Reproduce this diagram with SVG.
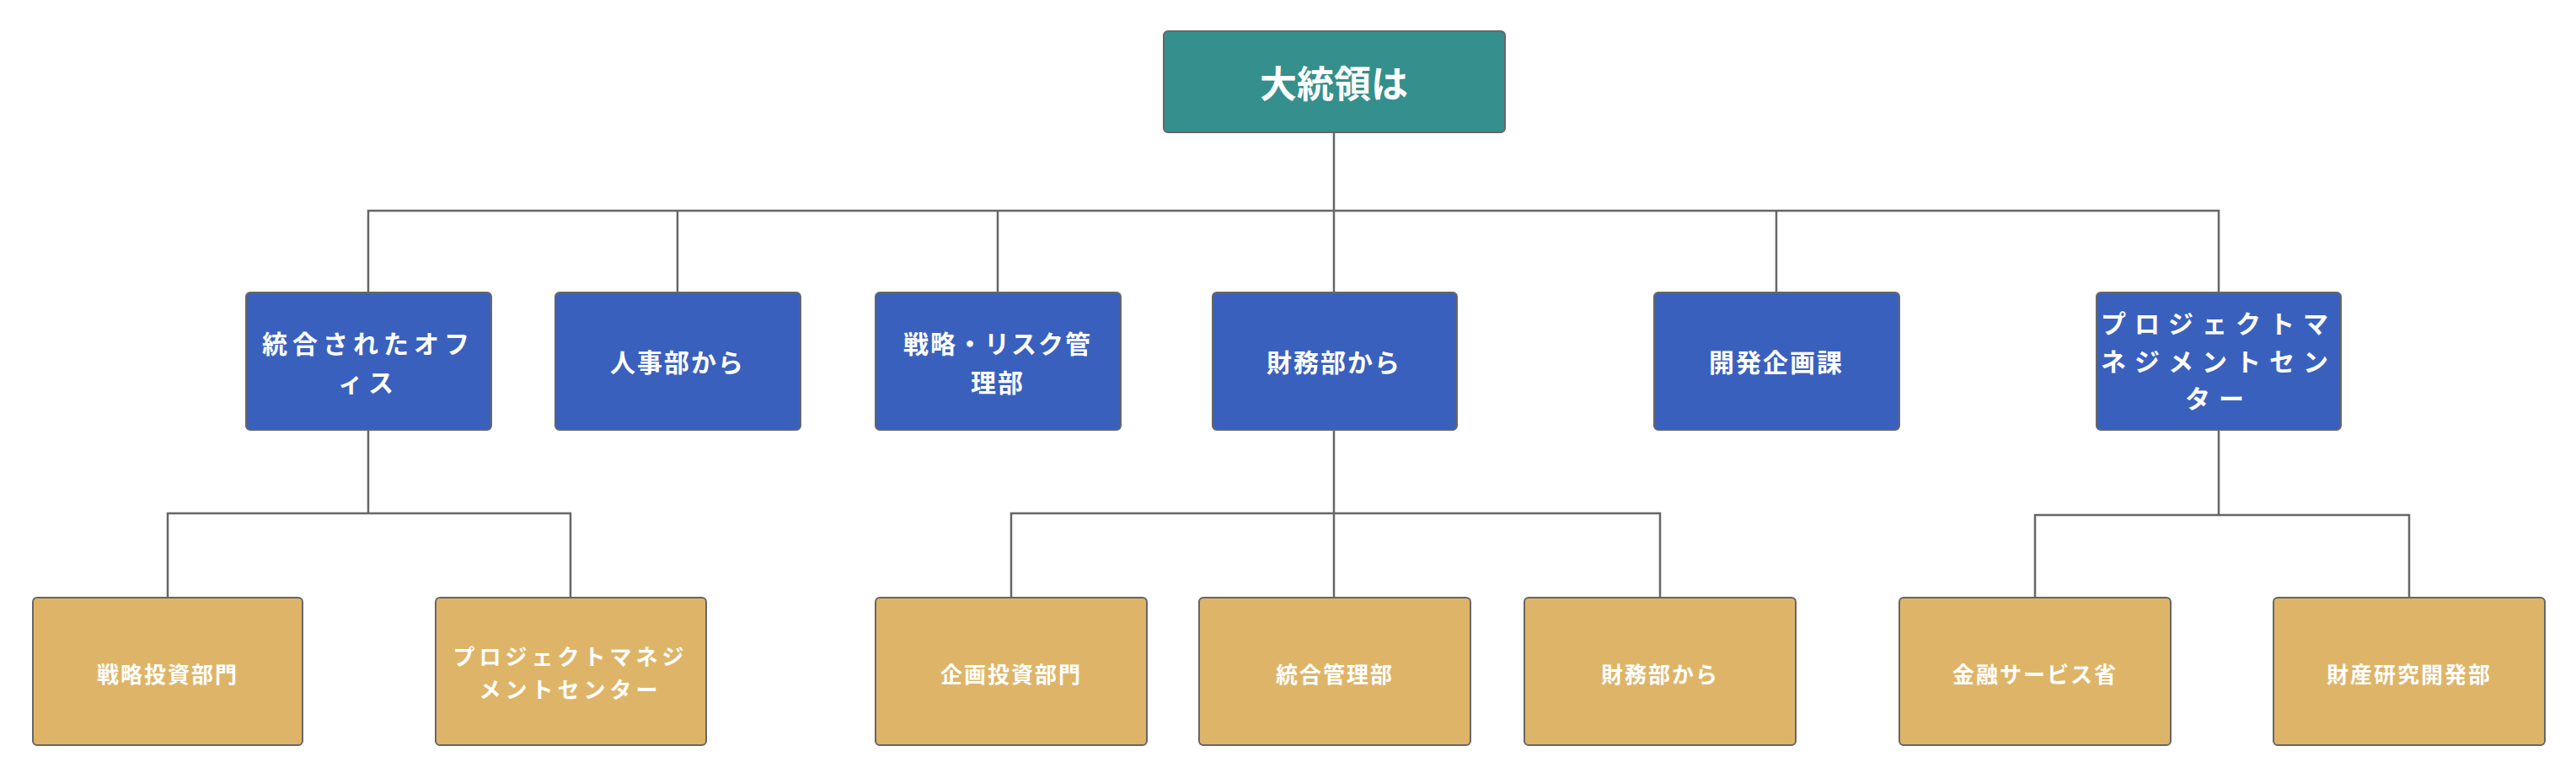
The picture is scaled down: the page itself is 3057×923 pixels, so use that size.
<svg xmlns="http://www.w3.org/2000/svg" width="3057" height="923" viewBox="0 0 3057 923">
<style>
.b{stroke:#666;stroke-width:2}
.root{fill:#358f8c}.l2{fill:#3a60be}.l3{fill:#deb568}
text{font-family:"Noto Sans CJK JP","Liberation Sans",sans-serif;font-weight:bold;fill:#fff;text-anchor:middle;dominant-baseline:central}
.t1{font-size:44px}.t2{font-size:30px;letter-spacing:2px}.t3{font-size:26px;letter-spacing:2px}
.c{fill:none;stroke:#666;stroke-width:2.5}
</style>
<rect width="3057" height="923" fill="#fff"/>
<g id="connectors" class="c">
<path d="M1583 157V250M437 347V250H2633V347M804 250V347M1184 250V347M1583 250V347M2108 250V347"/>
<path d="M437 510V609M199 709V609H677V709"/>
<path d="M1583 510V709M1200 709V609H1970V709"/>
<path d="M2633 510V611M2415 709V611H2859V709"/>
</g>
<g id="n0"><rect class="root b" x="1381" y="37" width="405" height="120" rx="5"/><text class="t1" x="1583" y="97">大統領は</text></g>
<g id="n1"><rect class="l2 b" x="292" y="347" width="291" height="163" rx="5"/><text class="t2" x="437" y="406" style="letter-spacing:6px">統合されたオフ</text><text class="t2" x="437" y="452" style="letter-spacing:6px">ィス</text></g>
<g id="n2"><rect class="l2 b" x="659" y="347" width="291" height="163" rx="5"/><text class="t2" x="804" y="428">人事部から</text></g>
<g id="n3"><rect class="l2 b" x="1039" y="347" width="291" height="163" rx="5"/><text class="t2" x="1184" y="406">戦略・リスク管</text><text class="t2" x="1184" y="452">理部</text></g>
<g id="n4"><rect class="l2 b" x="1439" y="347" width="290" height="163" rx="5"/><text class="t2" x="1583" y="428">財務部から</text></g>
<g id="n5"><rect class="l2 b" x="1963" y="347" width="291" height="163" rx="5"/><text class="t2" x="2108" y="428">開発企画課</text></g>
<g id="n6"><rect class="l2 b" x="2488" y="347" width="290" height="163" rx="5"/><text class="t2" x="2633" y="382" style="letter-spacing:10px">プロジェクトマ</text><text class="t2" x="2633" y="427" style="letter-spacing:10px">ネジメントセン</text><text class="t2" x="2633" y="471" style="letter-spacing:10px">ター</text></g>
<g id="n7"><rect class="l3 b" x="39" y="709" width="320" height="175" rx="5"/><text class="t3" x="199" y="798">戦略投資部門</text></g>
<g id="n8"><rect class="l3 b" x="517" y="709" width="321" height="175" rx="5"/><text class="t3" x="677" y="777" style="letter-spacing:5px">プロジェクトマネジ</text><text class="t3" x="677" y="816" style="letter-spacing:5px">メントセンター</text></g>
<g id="n9"><rect class="l3 b" x="1039" y="709" width="322" height="175" rx="5"/><text class="t3" x="1200" y="798">企画投資部門</text></g>
<g id="n10"><rect class="l3 b" x="1423" y="709" width="322" height="175" rx="5"/><text class="t3" x="1584" y="798">統合管理部</text></g>
<g id="n11"><rect class="l3 b" x="1809" y="709" width="322" height="175" rx="5"/><text class="t3" x="1970" y="798">財務部から</text></g>
<g id="n12"><rect class="l3 b" x="2254" y="709" width="322" height="175" rx="5"/><text class="t3" x="2415" y="798">金融サービス省</text></g>
<g id="n13"><rect class="l3 b" x="2698" y="709" width="322" height="175" rx="5"/><text class="t3" x="2859" y="798">財産研究開発部</text></g>
</svg>
